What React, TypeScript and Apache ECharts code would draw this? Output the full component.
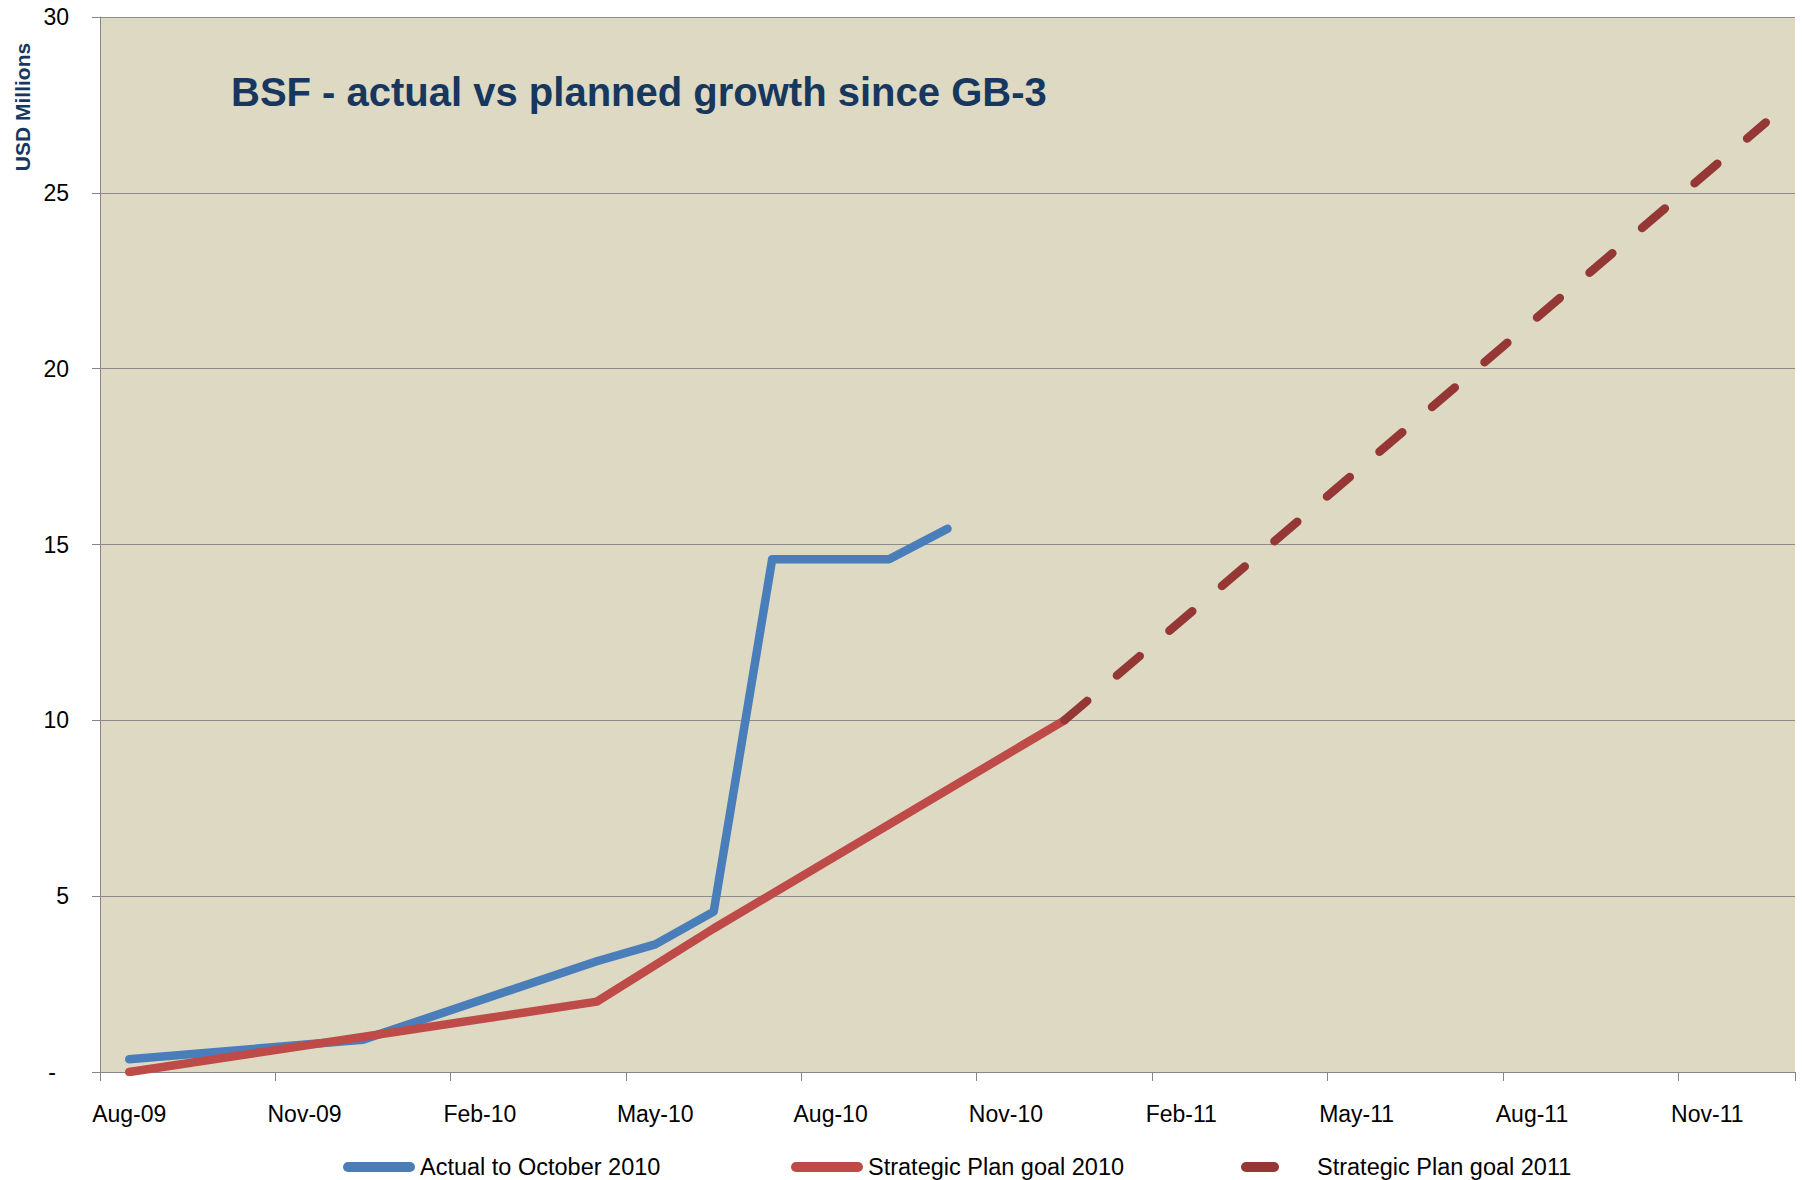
import React, { useEffect, useRef } from "react";
import * as echarts from "echarts";

const months = [
  "Aug-09", "Sep-09", "Oct-09", "Nov-09", "Dec-09",
  "Jan-10", "Feb-10", "Mar-10", "Apr-10", "May-10", "Jun-10", "Jul-10",
  "Aug-10", "Sep-10", "Oct-10", "Nov-10", "Dec-10",
  "Jan-11", "Feb-11", "Mar-11", "Apr-11", "May-11", "Jun-11", "Jul-11",
  "Aug-11", "Sep-11", "Oct-11", "Nov-11", "Dec-11",
];

const actual = [
  0.36, null, null, null, 0.92, null, null, null, 3.15, 3.63, 4.56, 14.58,
  14.58, 14.58, 15.45, null, null, null, null, null, null, null, null, null,
  null, null, null, null, null,
];

const plan2010 = [
  0, null, null, null, null, null, null, null, 2.0, null, 4.08, null,
  null, null, null, null, 10.0, null, null, null, null, null, null, null,
  null, null, null, null, null,
];

const plan2011 = [
  null, null, null, null, null, null, null, null, null, null, null, null,
  null, null, null, null, 10.0, null, null, null, null, null, null, null,
  null, null, null, null, 27.0,
];

const yTicks = [0, 5, 10, 15, 20, 25, 30];

const seriesNames = [
  "Actual to October 2010",
  "Strategic Plan goal 2010",
  "Strategic Plan goal 2011",
];

const FONT = "'Liberation Sans', Arial, sans-serif";
const pill72 = "path://M5,0 H67 A5,5 0 0 1 67,10 H5 A5,5 0 0 1 5,0 Z";
const pill38 = "path://M5,0 H33 A5,5 0 0 1 33,10 H5 A5,5 0 0 1 5,0 Z";

export default function App() {
  const ref = useRef<HTMLDivElement>(null);

  useEffect(() => {
    if (!ref.current) return;
    const chart = echarts.init(ref.current, undefined, { renderer: "svg" });
    const legendBase = {
      orient: "horizontal",
      top: 1155,
      padding: 0,
      itemHeight: 11,
      selectedMode: false,
      itemStyle: { borderWidth: 0 },
      textStyle: { fontFamily: FONT, fontSize: 23.5, color: "#000" },
    };
    chart.setOption({
      animation: false,
      backgroundColor: "#ffffff",
      title: {
        text: "BSF - actual vs planned growth since GB-3",
        left: 231,
        top: 72,
        padding: 0,
        textStyle: {
          fontFamily: FONT,
          fontSize: 40,
          fontWeight: "bold",
          color: "#17375E",
        },
      },
      graphic: [
        {
          type: "text",
          x: 22,
          y: 107,
          rotation: Math.PI / 2,
          style: {
            text: "USD Millions",
            fontFamily: FONT,
            fontSize: 21,
            fontWeight: "bold",
            fill: "#17375E",
            align: "center",
            verticalAlign: "middle",
          },
        },
      ],
      legend: [
        {
          ...legendBase,
          left: 343,
          data: [seriesNames[0]],
          icon: pill72,
          itemWidth: 72,
        },
        {
          ...legendBase,
          left: 791,
          data: [seriesNames[1]],
          icon: pill72,
          itemWidth: 72,
        },
        {
          ...legendBase,
          left: 1241,
          data: [seriesNames[2]],
          icon: pill38,
          itemWidth: 38,
          textStyle: { ...legendBase.textStyle, padding: [0, 0, 0, 33] },
        },
      ],
      grid: {
        left: 100,
        right: 7,
        top: 17,
        bottom: 108,
        show: true,
        backgroundColor: "#DDD9C3",
        borderWidth: 0,
      },
      xAxis: {
        type: "category",
        data: months,
        boundaryGap: true,
        axisLine: { show: true, lineStyle: { color: "#868686", width: 1 } },
        axisTick: { show: true, interval: 2, length: 9, lineStyle: { color: "#868686" } },
        axisLabel: {
          interval: 2,
          margin: 30,
          fontFamily: FONT,
          fontSize: 23,
          color: "#000",
        },
        splitLine: { show: false },
      },
      yAxis: {
        type: "value",
        min: 0,
        max: 30,
        interval: 5,
        axisLine: { show: true, lineStyle: { color: "#868686", width: 1 } },
        axisTick: { show: true, length: 8, lineStyle: { color: "#868686" } },
        axisLabel: {
          margin: 31,
          fontFamily: FONT,
          fontSize: 23,
          color: "#000",
          formatter: (v: number) =>
            yTicks.includes(v) ? (v === 0 ? "{d|-}" : String(v)) : "",
          rich: {
            d: { fontFamily: FONT, fontSize: 23, color: "#000", padding: [0, 13, 0, 0] },
          },
        },
        splitLine: { show: true, lineStyle: { color: "#8C8C8C", width: 1 } },
      },
      series: [
        {
          name: seriesNames[0],
          type: "line",
          data: actual,
          connectNulls: true,
          showSymbol: false,
          symbol: "none",
          color: "#4A7EBB",
          lineStyle: { color: "#4A7EBB", width: 8.5, cap: "round", join: "round" },
          z: 3,
        },
        {
          name: seriesNames[1],
          type: "line",
          data: plan2010,
          connectNulls: true,
          showSymbol: false,
          symbol: "none",
          color: "#BE4B48",
          lineStyle: { color: "#BE4B48", width: 8.5, cap: "round", join: "round" },
          z: 4,
        },
        {
          name: seriesNames[2],
          type: "line",
          data: plan2011,
          connectNulls: true,
          showSymbol: false,
          symbol: "none",
          color: "#953735",
          lineStyle: {
            color: "#953735",
            width: 8.5,
            type: [30, 39],
            cap: "round",
          },
          z: 5,
        },
      ],
    });
    return () => chart.dispose();
  }, []);

  return (
    <div
      ref={ref}
      style={{ position: "fixed", left: 0, top: 0, width: 1802, height: 1180 }}
    />
  );
}
